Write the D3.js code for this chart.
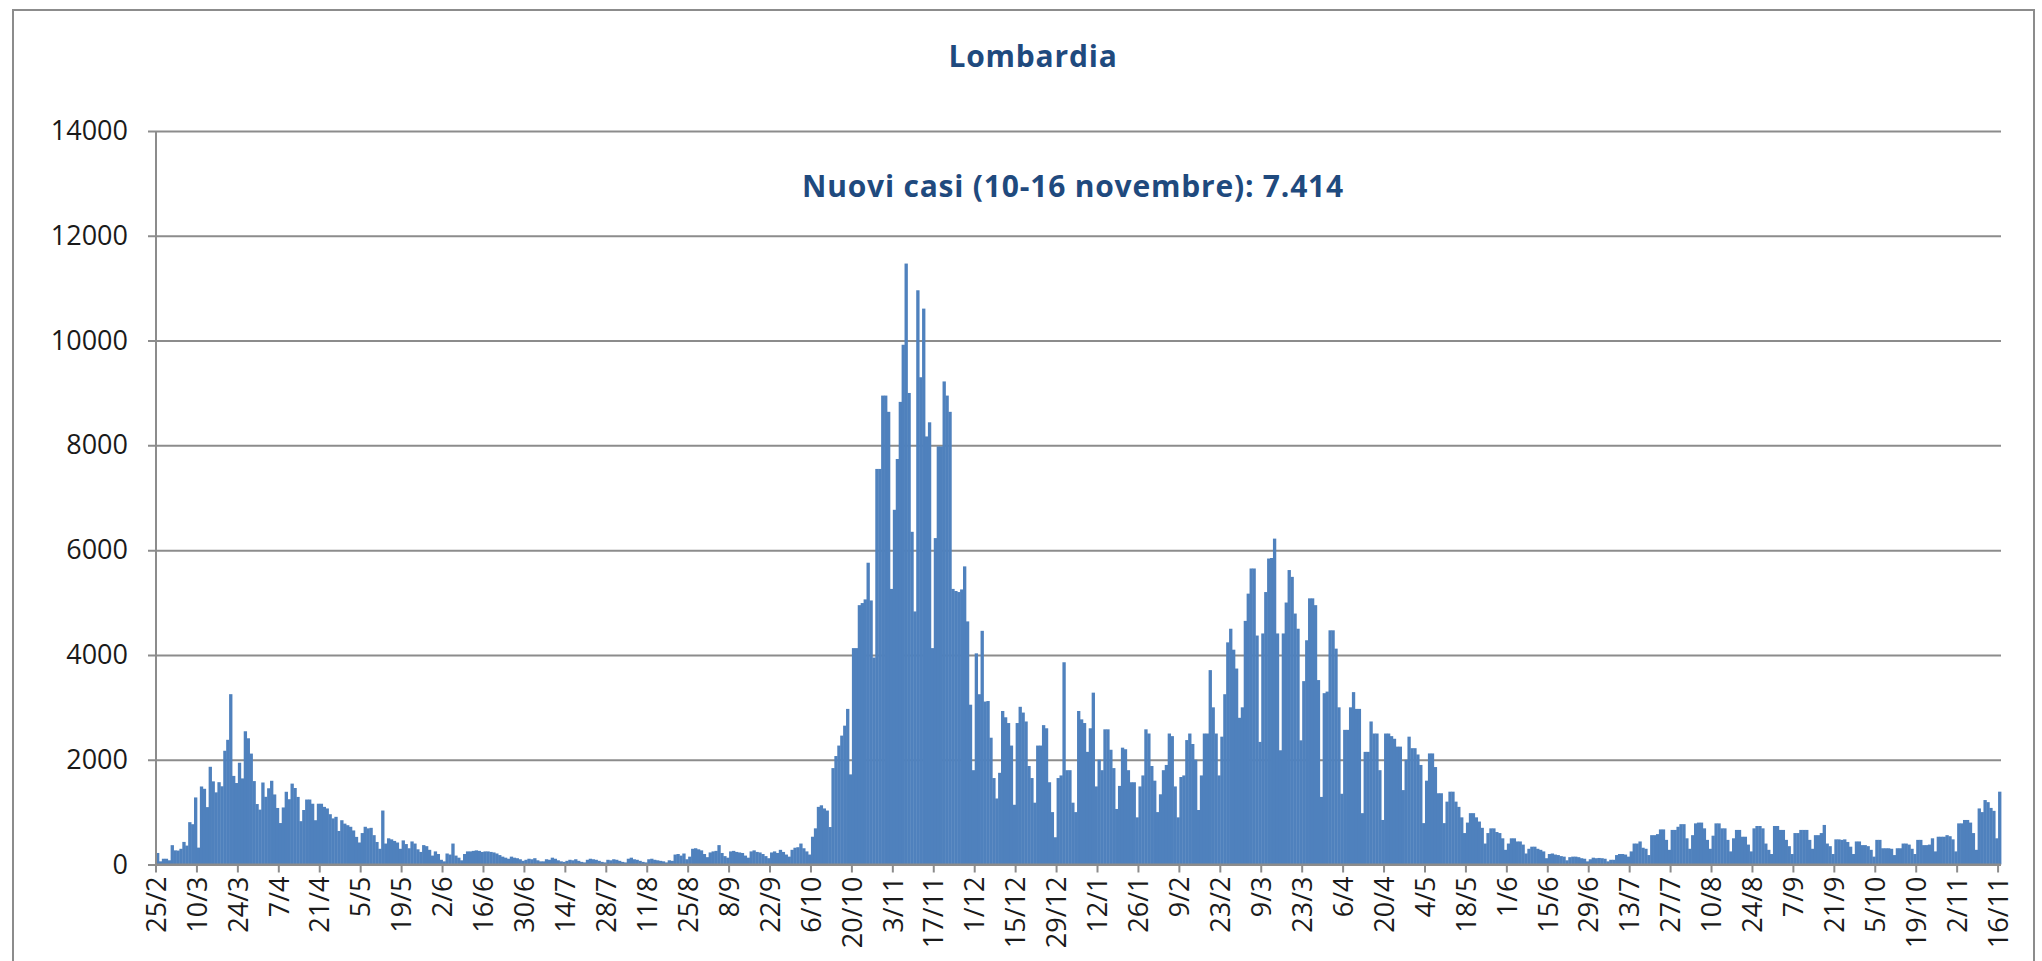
<!DOCTYPE html>
<html>
<head>
<meta charset="utf-8">
<script src="https://cdn.jsdelivr.net/npm/d3@7"></script>
<style>
  body { margin: 0; background: #fff; overflow: hidden; }
  svg { display: block; }
</style>
</head>
<body>
<svg id="canvas" width="2042" height="961"></svg>
<script>
let titolo = 'Lombardia'
let sottotitolo = 'Nuovi casi (10-16 novembre): 7.414'

// daily new cases from 25/2/2020 to 16/11/2021, one row = 14 days (Tue -> Mon)
let nuoviCasi = [
    220, 60, 110, 110, 80, 369, 270, 266, 300, 431, 361, 808, 769, 1280,
    322, 1489, 1445, 1095, 1865, 1587, 1377, 1571, 1493, 2171, 2380, 3251, 1691, 1555,
    1942, 1643, 2543, 2409, 2117, 1592, 1154, 1047, 1565, 1292, 1455, 1598, 1337, 1079,
    791, 1089, 1388, 1246, 1544, 1460, 1290, 827, 1040, 1240, 1240, 1160, 845, 1160,
    1160, 1100, 1070, 960, 880, 910, 640, 845, 780, 750, 720, 650, 527, 420,
    600, 720, 690, 700, 560, 430, 300, 1030, 400, 500, 480, 450, 420, 300,
    460, 390, 310, 440, 400, 290, 240, 370, 350, 280, 170, 250, 200, 90,
    60, 210, 190, 400, 170, 130, 80, 200, 250, 250, 260, 270, 260, 240,
    250, 250, 240, 230, 210, 180, 150, 130, 110, 150, 130, 120, 100, 70,
    90, 110, 100, 120, 80, 60, 60, 100, 90, 130, 110, 80, 60, 50,
    70, 90, 80, 100, 70, 50, 40, 90, 110, 100, 90, 70, 50, 40,
    90, 80, 100, 90, 70, 50, 40, 110, 130, 100, 90, 70, 50, 40,
    100, 110, 90, 80, 70, 60, 40, 80, 70, 190, 200, 170, 210, 100,
    150, 300, 310, 290, 270, 200, 140, 230, 250, 260, 370, 220, 160, 130,
    250, 260, 240, 230, 220, 170, 130, 250, 270, 240, 230, 200, 160, 120,
    230, 250, 220, 280, 240, 190, 150, 280, 320, 330, 400, 310, 250, 190,
    530, 690, 1100, 1130, 1070, 1030, 715, 1840, 2070, 2270, 2460, 2650, 2970, 1720,
    4130, 4130, 4950, 4990, 5060, 5760, 5040, 3950, 7550, 7550, 8950, 8950, 8640, 5260,
    6770, 7740, 8830, 9920, 11470, 9000, 6350, 4830, 10960, 9300, 10610, 8170, 8440, 4130,
    6230, 7980, 7980, 9220, 8950, 8640, 5260, 5220, 5200, 5250, 5690, 4640, 3050, 1800,
    4030, 3250, 4460, 3110, 3120, 2420, 1650, 1260, 1750, 2930, 2810, 2700, 2270, 1140,
    2700, 3010, 2900, 2730, 1880, 1650, 1180, 2270, 2270, 2660, 2600, 1570, 1000, 520,
    1650, 1700, 3860, 1800, 1800, 1180, 1000, 2930, 2770, 2700, 2150, 2600, 3280, 1490,
    2000, 1800, 2580, 2580, 2190, 1840, 1060, 1500, 2230, 2200, 1800, 1570, 1570, 900,
    1490, 1700, 2580, 2500, 1880, 1600, 1000, 1340, 1800, 1900, 2500, 2450, 1490, 900,
    1670, 1700, 2375, 2500, 2300, 2000, 1040, 1700, 2500, 2500, 3710, 3000, 2500, 1700,
    2440, 3250, 4240, 4500, 4100, 3740, 2800, 3000, 4650, 5170, 5650, 5650, 4370, 2340,
    4410, 5200, 5840, 5850, 6220, 4410, 2180, 4410, 5000, 5620, 5490, 4790, 4500, 2370,
    3500, 4280, 5080, 5080, 4950, 3520, 1290, 3270, 3300, 4470, 4470, 4120, 3000, 1350,
    2570, 2570, 3000, 3290, 2970, 2970, 980, 2150, 2150, 2730, 2500, 2500, 1800, 850,
    2500, 2500, 2450, 2400, 2250, 2250, 1420, 2000, 2440, 2220, 2220, 2100, 1900, 790,
    1600, 2120, 2120, 1860, 1360, 1360, 790, 1200, 1390, 1390, 1200, 1100, 900, 600,
    800, 980, 980, 900, 820, 700, 400, 600, 690, 690, 620, 600, 500, 280,
    400, 500, 500, 440, 440, 380, 210, 300, 340, 340, 300, 280, 250, 120,
    200, 210, 190, 180, 160, 150, 80, 140, 150, 150, 140, 120, 110, 60,
    100, 130, 120, 125, 120, 110, 60, 90, 90, 180, 200, 200, 190, 150,
    250, 400, 400, 440, 320, 300, 180, 560, 560, 580, 670, 670, 470, 280,
    660, 660, 720, 770, 770, 500, 300, 560, 785, 800, 800, 690, 470, 300,
    550, 785, 785, 690, 690, 470, 250, 500, 660, 660, 530, 530, 380, 250,
    690, 735, 735, 690, 400, 280, 200, 735, 735, 660, 660, 470, 350, 200,
    600, 600, 660, 660, 660, 470, 300, 560, 560, 600, 755, 400, 350, 200,
    480, 480, 470, 480, 430, 340, 200, 440, 440, 370, 370, 350, 280, 150,
    470, 470, 310, 310, 310, 300, 180, 310, 310, 400, 400, 380, 300, 200,
    470, 470, 370, 370, 380, 500, 250, 530, 530, 530, 560, 540, 480, 250,
    785, 785, 850, 850, 800, 600, 280, 1070, 1000, 1230, 1190, 1080, 1024, 500,
    1390
]

let tickLabels = [
    '25/2', '10/3', '24/3', '7/4', '21/4', '5/5', '19/5', '2/6', '16/6', '30/6',
    '14/7', '28/7', '11/8', '25/8', '8/9', '22/9', '6/10', '20/10', '3/11', '17/11',
    '1/12', '15/12', '29/12', '12/1', '26/1', '9/2', '23/2', '9/3', '23/3', '6/4',
    '20/4', '4/5', '18/5', '1/6', '15/6', '29/6', '13/7', '27/7', '10/8', '24/8',
    '7/9', '21/9', '5/10', '19/10', '2/11', '16/11'
]
let tickStep = 14
let yTicks = [0, 2000, 4000, 6000, 8000, 10000, 12000, 14000]

let canvas = d3.select('#canvas')
let grigio = '#8c8c8c'
let blu = '#4f81bd'
let bluTitolo = '#1f4a7e'
let font = '"Open Sans", "DejaVu Sans", sans-serif'

let plotLeft = 156, plotRight = 2001, plotTop = 131, plotBottom = 864.5

let xScale = d3.scaleBand()
    .domain(d3.range(nuoviCasi.length))
    .range([plotLeft, plotRight])
    .padding(0)

let yScale = d3.scaleLinear()
    .domain([0, 14000])
    .range([plotBottom, plotTop])

// chart frame
canvas.append('rect')
    .attr('x', 13)
    .attr('y', 10)
    .attr('width', 2021)
    .attr('height', 1000)
    .attr('fill', 'none')
    .attr('stroke', grigio)
    .attr('stroke-width', 2)

// gridlines + y axis
let yAxis = d3.axisLeft(yScale)
    .tickValues(yTicks)
    .tickSize(-(plotRight - plotLeft))
    .tickPadding(28)
    .tickFormat(d3.format('d'))

let gy = canvas.append('g')
    .attr('transform', 'translate(' + plotLeft + ',0)')
    .call(yAxis)
gy.select('.domain').remove()
gy.selectAll('.tick line')
    .attr('x1', -8)
    .attr('stroke', grigio)
    .attr('stroke-width', 2)
gy.selectAll('.tick text')
    .attr('font-family', font)
    .attr('font-size', '27px')
    .attr('fill', '#1a1a1a')

// bars
canvas.append('g')
    .selectAll('rect')
    .data(nuoviCasi)
    .enter()
    .append('rect')
    .attr('x', (d, i) => xScale(i))
    .attr('y', (d) => yScale(d))
    .attr('width', xScale.bandwidth() + 0.4)
    .attr('height', (d) => plotBottom - yScale(d))
    .attr('fill', blu)

// axis lines
canvas.append('line')
    .attr('x1', plotLeft).attr('x2', plotLeft)
    .attr('y1', plotTop).attr('y2', plotBottom)
    .attr('stroke', grigio).attr('stroke-width', 2)
canvas.append('line')
    .attr('x1', plotLeft).attr('x2', plotRight)
    .attr('y1', plotBottom).attr('y2', plotBottom)
    .attr('stroke', grigio).attr('stroke-width', 2)

// x ticks and labels
let xTicks = canvas.append('g')
    .selectAll('g')
    .data(tickLabels)
    .enter()
    .append('g')
    .attr('transform', (d, i) => 'translate(' + xScale(i * tickStep) + ',' + plotBottom + ')')

xTicks.append('line')
    .attr('y1', 0)
    .attr('y2', 8)
    .attr('stroke', grigio)
    .attr('stroke-width', 2)

xTicks.append('text')
    .attr('transform', 'translate(0,12) rotate(-90)')
    .attr('text-anchor', 'end')
    .attr('dy', '0.36em')
    .attr('font-family', font)
    .attr('font-size', '27px')
    .attr('fill', '#1a1a1a')
    .text((d) => d)

// titles
canvas.append('text')
    .attr('x', 1033)
    .attr('y', 67)
    .attr('text-anchor', 'middle')
    .attr('font-family', font)
    .attr('font-weight', 'bold')
    .attr('font-size', '30px')
    .attr('letter-spacing', '0.8px')
    .attr('fill', bluTitolo)
    .text(titolo)

canvas.append('text')
    .attr('x', 1073)
    .attr('y', 197)
    .attr('text-anchor', 'middle')
    .attr('font-family', font)
    .attr('font-weight', 'bold')
    .attr('font-size', '30px')
    .attr('letter-spacing', '0.8px')
    .attr('fill', bluTitolo)
    .text(sottotitolo)
</script>
</body>
</html>
